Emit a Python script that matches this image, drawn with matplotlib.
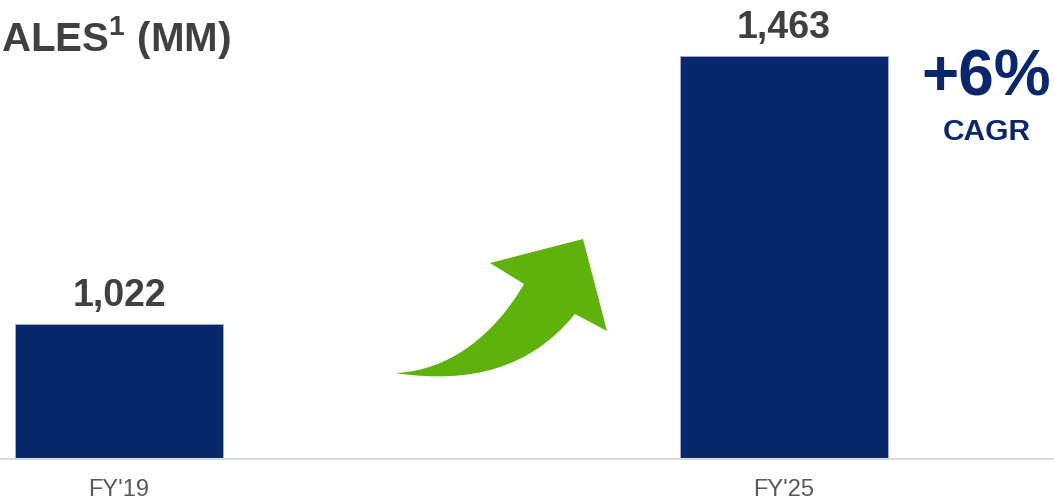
import matplotlib
matplotlib.use("Agg")
import matplotlib.pyplot as plt
from matplotlib.path import Path
from matplotlib.patches import PathPatch

plt.rcParams['font.family'] = ['Liberation Sans', 'DejaVu Sans']
plt.rcParams['mathtext.fontset'] = 'custom'
plt.rcParams['mathtext.rm'] = 'Liberation Sans'
plt.rcParams['mathtext.bf'] = 'Liberation Sans:bold'

# net sales, millions
years = ["FY'19", "FY'25"]
sales = [1022, 1463]
n_years = 6

NAVY = '#0a276e'
GREEN = '#5eb20b'
DARK = '#404040'

W, H = 1054, 502
fig = plt.figure(figsize=(W / 100, H / 100), dpi=100)

# bar axes: baseline sits 42 px above the bottom edge
ax = fig.add_axes([0, 42 / H, 1, 1 - 42 / H])
pos = range(len(years))
bars = ax.bar(pos, sales, width=0.313, color=NAVY, edgecolor='#9fb0d0',
              linewidth=0.6, zorder=2)
ax.set_xlim(-0.179, 1.406)
ax.set_ylim(800, 1557)
ax.set_xticks(list(pos))
ax.set_xticklabels(years, fontsize=17, color='#595959')
ax.tick_params(axis='x', length=0, pad=14)
ax.set_yticks([])
for side in ['top', 'left', 'right']:
    ax.spines[side].set_visible(False)
ax.spines['bottom'].set_color('#d9d9d9')
ax.spines['bottom'].set_linewidth(1.5)

for b, v in zip(bars, sales):
    ax.annotate(f"{v:,}", (b.get_x() + b.get_width() / 2, v),
                xytext=(0, 14), textcoords='offset points',
                ha='center', va='baseline', fontsize=27,
                fontweight='bold', color=DARK)

# overlay in pixel units for title, growth callout and arrow
ov = fig.add_axes([0, 0, 1, 1], zorder=3)
ov.set_xlim(0, W)
ov.set_ylim(H, 0)
ov.axis('off')

ov.text(1, 51, r"ALES$^{\mathbf{1}}$ (MM)", fontsize=29, fontweight='bold',
        color=DARK, va='baseline', ha='left')

cagr = (sales[-1] / sales[0]) ** (1 / n_years) - 1
ov.text(986, 96, f"+{cagr * 100:.0f}%", fontsize=46, fontweight='bold',
        color=NAVY, ha='center', va='baseline')
ov.text(987, 140, "CAGR", fontsize=21.5, fontweight='bold',
        color=NAVY, ha='center', va='baseline')

# curved growth arrow
verts = [
    (395, 374),
    (470, 385), (530, 370), (575, 315),
    (607, 332),
    (583, 240),
    (490, 264),
    (524, 285),
    (495, 335), (450, 372), (395, 374),
    (395, 374),
]
codes = [
    Path.MOVETO,
    Path.CURVE4, Path.CURVE4, Path.CURVE4,
    Path.LINETO,
    Path.LINETO,
    Path.LINETO,
    Path.LINETO,
    Path.CURVE4, Path.CURVE4, Path.CURVE4,
    Path.CLOSEPOLY,
]
ov.add_patch(PathPatch(Path(verts, codes), facecolor=GREEN,
                       edgecolor='none'))

fig.savefig('out.png', dpi=100)
